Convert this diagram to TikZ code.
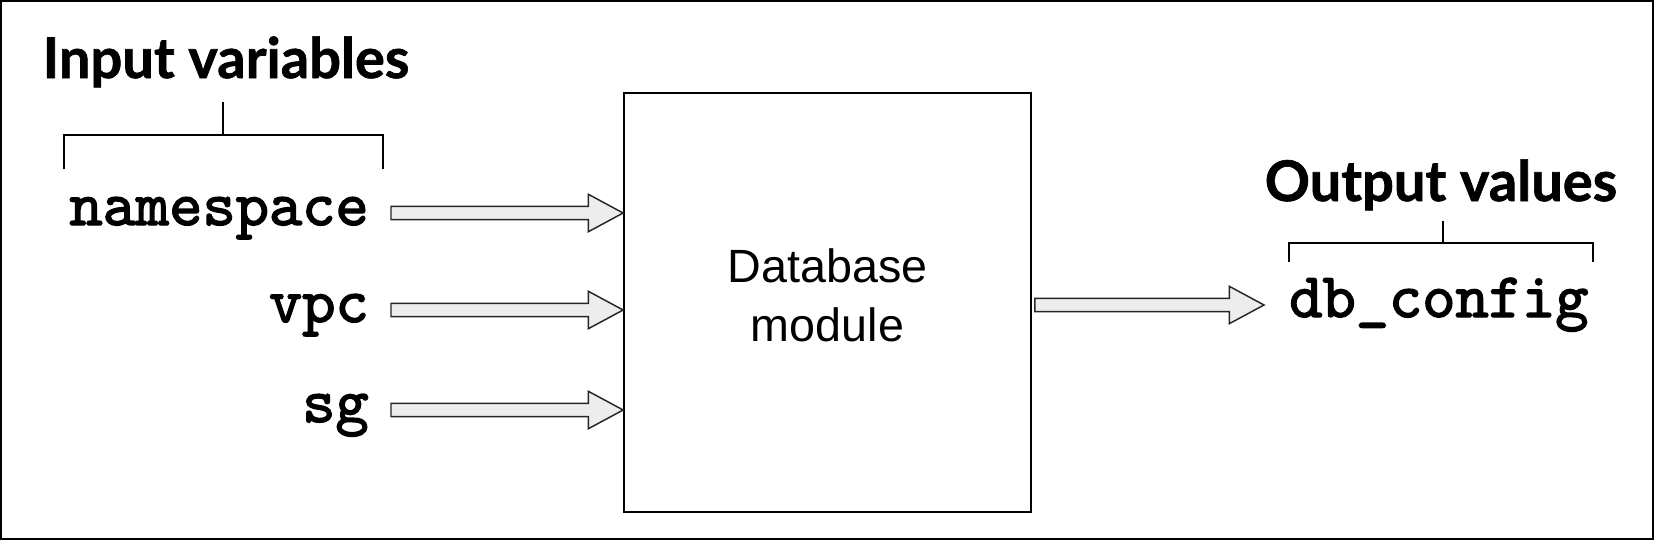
\documentclass[tikz,border=0pt]{standalone}
\usepackage{fontspec}
\setmainfont{Liberation Sans}
\newfontfamily\codefont{lmmono10-regular.otf}[FakeBold=2.2]
\newfontfamily\headfont{Lato}[BoldFeatures={FakeBold=1.2}]
\usetikzlibrary{calc}

\tikzset{
  frame/.style={line width=1.5pt},
  modbox/.style={draw, line width=1.3pt, minimum width=305.25pt, minimum height=314.25pt, inner sep=0pt},
  varname/.style={inner sep=0pt, font=\codefont\fontsize{47.5}{50}\selectfont},
  heading/.style={inner sep=0pt, font=\headfont\bfseries\fontsize{42}{44}\selectfont},
  modtext/.style={inner sep=0pt, align=center, font=\fontsize{35}{44.5}\selectfont},
  bracket/.style={line width=1.6pt},
  fat arrow/.style={draw=black!85, line width=1.1pt, fill=black!7, line join=miter}
}

% thick hollow arrow from #1 to #2 (same height)
\newcommand\fatarrow[2]{%
  \path[fat arrow] let \p1=(#1), \p2=(#2) in
    (\x1,\y1-4.9pt) -- (\x2-26pt,\y1-4.9pt) -- (\x2-26pt,\y1-14pt) -- (\x2,\y1)
    -- (\x2-26pt,\y1+14pt) -- (\x2-26pt,\y1+4.9pt) -- (\x1,\y1+4.9pt) -- cycle;}

\begin{document}
\begin{tikzpicture}[x=0.75pt,y=0.75pt,yscale=-1,xscale=1]
\useasboundingbox (0,0) rectangle (1654,540);

%Frame
\draw [frame] (1,1) rectangle (1653,539);

%Shape: Module box
\node [modbox] (db) at (827.5,302.5) {};
% Text Node
\node [modtext] (dbtext) at ($(db.center)+(0,-7)$) {Database\\module};

% Text Node
\node [varname, anchor=base east] (ns) at (369,225) {namespace};
% Text Node
\node [varname, anchor=base east] (vpc) at (369,322) {vpc};
% Text Node
\node [varname, anchor=base east] (sg) at (369,422) {sg};
% Text Node
\node [varname, anchor=base west] (cfg) at (1289,317) {db\_config};

% Text Node
\node [heading, anchor=base] (inhead) at (226,78) {Input variables};
% Text Node
\node [heading, anchor=base] (outhead) at (1441,201) {Output values};

%Straight Lines: brackets
\draw [bracket] (223,102) -- (223,135);
\draw [bracket] (64,169) -- (64,135) -- (383,135) -- (383,169);
\draw [bracket] (1443,221) -- (1443,243);
\draw [bracket] (1289,262) -- (1289,243) -- (1593,243) -- (1593,262);

%Arrows into the module
\foreach \v in {ns,vpc,sg} {
  \coordinate (\v in) at ($(\v.base east)+(22,-12)$);
  \fatarrow{\v in}{\v in -| db.west}
}
%Arrow out of the module
\coordinate (cfg out) at ($(db.east |- cfg.base)+(3,-12)$);
\fatarrow{cfg out}{$(cfg.base west)+(-25,-12)$}

\end{tikzpicture}
\end{document}
